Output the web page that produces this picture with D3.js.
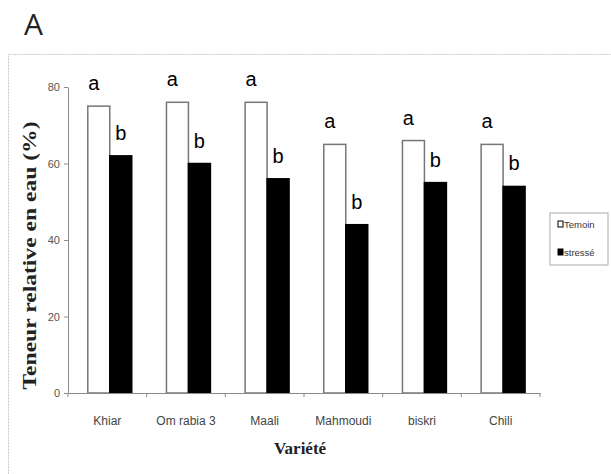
<!DOCTYPE html>
<html>
<head>
<meta charset="utf-8">
<script src="https://cdn.jsdelivr.net/npm/d3@7"></script>
<style>
  body { margin: 0; background: #fff; }
</style>
</head>
<body>
<div class="svg-container"></div>
<script>
// data
const varietes = ["Khiar", "Om rabia 3", "Maali", "Mahmoudi", "biskri", "Chili"];
const series = ["Temoin", "stressé"];
const temoin = [75, 76, 76, 65, 66, 65];
const stresse = [62, 60, 56, 44, 55, 54];
const lettresTemoin = ["a", "a", "a", "a", "a", "a"];
const lettresStresse = ["b", "b", "b", "b", "b", "b"];
const yTicks = [0, 20, 40, 60, 80];

const width = 611, height = 474;
const margin = {top: 87, bottom: 81, left: 68, right: 71};

const svg = d3.select(".svg-container").append("svg")
  .attr("width", width)
  .attr("height", height);

// dotted frame (runs off the right and bottom of the picture)
svg.append("rect")
  .attr("x", 8.5).attr("y", 54.5)
  .attr("width", 700).attr("height", 500)
  .style("fill", "none")
  .style("stroke", "#c8c8c8")
  .style("stroke-dasharray", "2,1");

svg.append("text")
  .attr("x", 24).attr("y", 35)
  .style("font-family", "Open Sans, sans-serif")
  .style("font-size", "30px")
  .style("fill", "#222")
  .text("A");

const x0 = d3.scaleBand().domain(varietes).range([margin.left, width - margin.right]);
const x1 = d3.scaleBand().domain(series).range([0, x0.bandwidth()])
  .paddingOuter(0.79).align(0.57);
const y = d3.scaleLinear().domain([0, 80]).range([height - margin.bottom, margin.top]);
const xTick = d3.scaleLinear().domain([0, varietes.length]).range(x0.range());

const data = varietes.map((v, i) => ({
  v, vals: [
    {s: series[0], val: temoin[i], l: lettresTemoin[i]},
    {s: series[1], val: stresse[i], l: lettresStresse[i]}
  ]
}));

// y axis
const yAxis = d3.axisLeft(y).tickValues(yTicks).tickSize(4).tickPadding(4).tickSizeOuter(0);
const gy = svg.append("g")
  .attr("transform", `translate(${margin.left},0)`)
  .call(yAxis);
gy.select(".domain").style("stroke", "#8a8a8a");
gy.selectAll(".tick line").style("stroke", "#8a8a8a");
gy.selectAll(".tick text")
  .style("font-family", "Liberation Sans, Arial, sans-serif")
  .style("font-size", "11px")
  .style("fill", "#555");

// bars
const groups = svg.append("g").selectAll("g")
  .data(data).join("g")
  .attr("transform", d => `translate(${x0(d.v)},0)`);

groups.selectAll("rect")
  .data(d => d.vals).join("rect")
  .attr("x", d => x1(d.s))
  .attr("y", d => y(d.val))
  .attr("width", x1.bandwidth())
  .attr("height", d => y(0) - y(d.val))
  .style("fill", d => d.s === "Temoin" ? "#fff" : "#000")
  .style("stroke", d => d.s === "Temoin" ? "#777" : "#000")
  .style("stroke-width", 1.5);

groups.selectAll("text")
  .data(d => d.vals).join("text")
  .attr("x", d => x1(d.s) + x1.bandwidth() / 2 + (d.s === "Temoin" ? -5 : 0))
  .attr("y", d => y(d.val) - 16)
  .style("text-anchor", "middle")
  .style("font-family", "Liberation Sans, Arial, sans-serif")
  .style("font-size", "20px")
  .style("fill", "#000")
  .text(d => d.l);

// x axis: labels at band centres, marks between categories
const xAxis = d3.axisBottom(x0).tickSize(0).tickPadding(23);
const gx = svg.append("g")
  .attr("transform", `translate(0,${y(0)})`)
  .call(xAxis);
gx.select(".domain").style("stroke", "#8a8a8a");
gx.selectAll(".tick text")
  .style("font-family", "Liberation Sans, Arial, sans-serif")
  .style("font-size", "12px")
  .style("fill", "#444");

gx.selectAll(".sep")
  .data(d3.range(varietes.length + 1)).join("line")
  .attr("class", "sep")
  .attr("x1", d => xTick(d)).attr("x2", d => xTick(d))
  .attr("y1", 0).attr("y2", 4)
  .style("stroke", "#8a8a8a");

// axis titles
svg.append("text")
  .attr("transform", `translate(36,${(y(0) + 118) / 2}) rotate(-90)`)
  .style("text-anchor", "middle")
  .style("font-family", "Liberation Serif, Times New Roman, serif")
  .style("font-weight", "bold")
  .style("font-size", "18px")
  .style("fill", "#222")
  .attr("textLength", 268)
  .attr("lengthAdjust", "spacingAndGlyphs")
  .text("Teneur relative en eau (%)");

svg.append("text")
  .attr("x", (margin.left + width - margin.right) / 2 - 4)
  .attr("y", 454)
  .style("text-anchor", "middle")
  .style("font-family", "Liberation Serif, Times New Roman, serif")
  .style("font-weight", "bold")
  .style("font-size", "17px")
  .style("fill", "#222")
  .text("Variété");

// legend
const legend = svg.append("g").attr("transform", "translate(550,213)");
legend.append("rect")
  .attr("width", 58).attr("height", 52)
  .style("fill", "#fff")
  .style("stroke", "#aaa");
const items = legend.selectAll("g.item")
  .data(series).join("g")
  .attr("class", "item")
  .attr("transform", (d, i) => `translate(8,${11 + i * 28})`);
items.append("rect")
  .attr("x", 0).attr("y", -3)
  .attr("width", 5).attr("height", 6)
  .style("fill", (d, i) => i === 0 ? "#fff" : "#000")
  .style("stroke", "#000")
  .style("stroke-width", 1);
items.append("text")
  .attr("x", 6).attr("y", 3.5)
  .style("font-family", "Liberation Sans, Arial, sans-serif")
  .style("font-size", "9.5px")
  .style("fill", "#333")
  .text(d => d);
</script>
</body>
</html>
